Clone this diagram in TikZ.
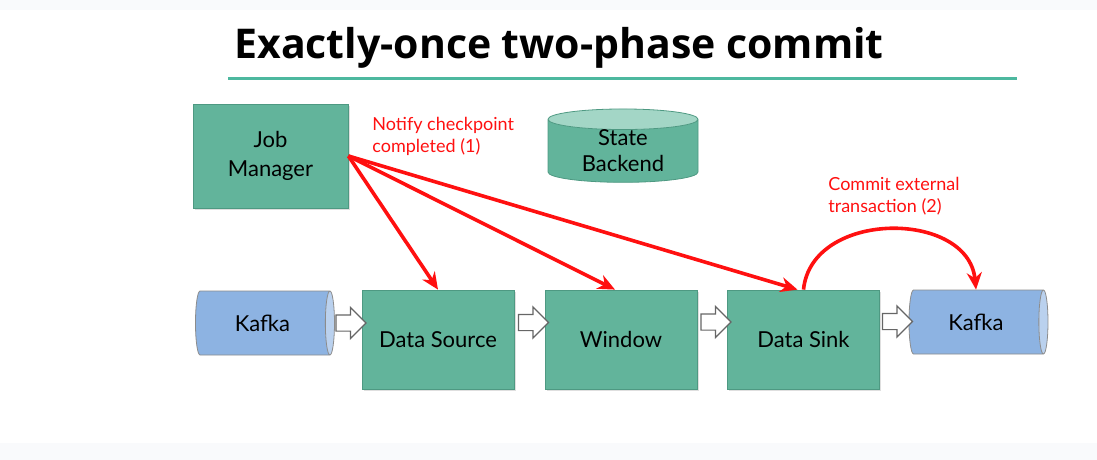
\documentclass[tikz,border=0pt]{standalone}
\usepackage{fontspec}
\setmainfont{Lato}
\newfontfamily\titlefont{Open Sans}
\usetikzlibrary{shapes.geometric,shapes.arrows,arrows.meta,shadows}
\definecolor{boxgreen}{HTML}{62B49B}
\definecolor{boxedge}{HTML}{4E9982}
\definecolor{storetop}{HTML}{A3D6C6}
\definecolor{kafkablue}{HTML}{8DB3E2}
\definecolor{kafkaend}{HTML}{BAD1EE}
\definecolor{rulegreen}{HTML}{4DB89F}
\definecolor{notered}{HTML}{FF1010}
\definecolor{stripe}{HTML}{F9FAFC}
\begin{document}
\begin{tikzpicture}[x=0.5pt,y=-0.5pt]
    \tikzstyle{box}=[draw=boxedge, fill=boxgreen, line width=0.4pt, inner sep=0pt, minimum width=76pt, minimum height=49.5pt, align=center, font=\fontsize{11}{14.5}\selectfont, drop shadow={shadow xshift=0.8pt, shadow yshift=-0.8pt, opacity=0.25}]
    \tikzstyle{store}=[cylinder, shape border rotate=90, draw=boxedge, line width=0.4pt, cylinder uses custom fill, cylinder body fill=boxgreen, cylinder end fill=storetop, minimum width=75pt, minimum height=35pt, aspect=0.25, inner sep=0pt, align=center, font=\fontsize{11}{13}\selectfont]
    \tikzstyle{queue}=[cylinder, draw=black!45, line width=0.4pt, cylinder uses custom fill, cylinder body fill=kafkablue, cylinder end fill=kafkaend, minimum height=69.5pt, minimum width=32pt, aspect=0.55, inner sep=0pt, font=\fontsize{11}{13}\selectfont]
    \tikzstyle{flow}=[single arrow, draw=black!60, fill=white, line width=0.6pt, inner xsep=0pt, inner ysep=3.75pt, minimum height=15pt, single arrow head extend=3.75pt, single arrow head indent=0pt]
    \tikzstyle{notify}=[draw=notered, line width=1.8pt, -{Stealth[length=8.5pt,width=7.5pt]}]
    \tikzstyle{redtext}=[text=notered, align=left, inner sep=0pt, font=\fontsize{9}{11}\selectfont]
    \useasboundingbox (0,0) rectangle (1097,460);
    \fill[stripe] (0,0) rectangle (1097,10);
    \fill[stripe] (0,443) rectangle (1097,460);
    \node[anchor=base west, inner sep=0pt, font=\fontsize{20.5}{24}\titlefont\bfseries] (title) at (234,59) {Exactly-once two-phase commit};
    \draw[rulegreen, line width=1.5pt] (228,79) -- (1017,79);

    \node[box, minimum width=77.5pt, minimum height=52pt] (jm) at (270.5,156) {Job\\Manager};
    \node[store] (state) at (623,151) {State\\Backend};
    \node[queue] (kin) at (262.5,323) {Kafka};
    \node[box] (src) at (438,339.5) {Data Source};
    \node[box] (win) at (621,339.5) {Window};
    \node[box] (sink) at (803.5,339.5) {Data Sink};
    \node[queue] (kout) at (976,322) {Kafka};

    \node[flow] (f1) at (347,323) {};
    \node[flow] (f2) at (529.5,322.5) {};
    \node[flow] (f3) at (712,322) {};
    \node[flow] (f4) at (893.5,321.5) {};

    \node[redtext, anchor=north west] (note1) at (372,117) {Notify checkpoint\\completed (1)};
    \node[redtext, anchor=north west] (note2) at (828,177) {Commit external\\transaction (2)};

    \draw[notify] (jm.east) -- (src.north);
    \draw[notify] (jm.east) -- ([xshift=-3pt]win.north);
    \draw[notify] (jm.east) -- ([xshift=-3pt]sink.north);
    \draw[notify] (sink.north) .. controls ([shift={(8,-80)}]sink.north) and ([shift={(-8,-80)}]kout.north) .. (kout.north);
\end{tikzpicture}
\end{document}
